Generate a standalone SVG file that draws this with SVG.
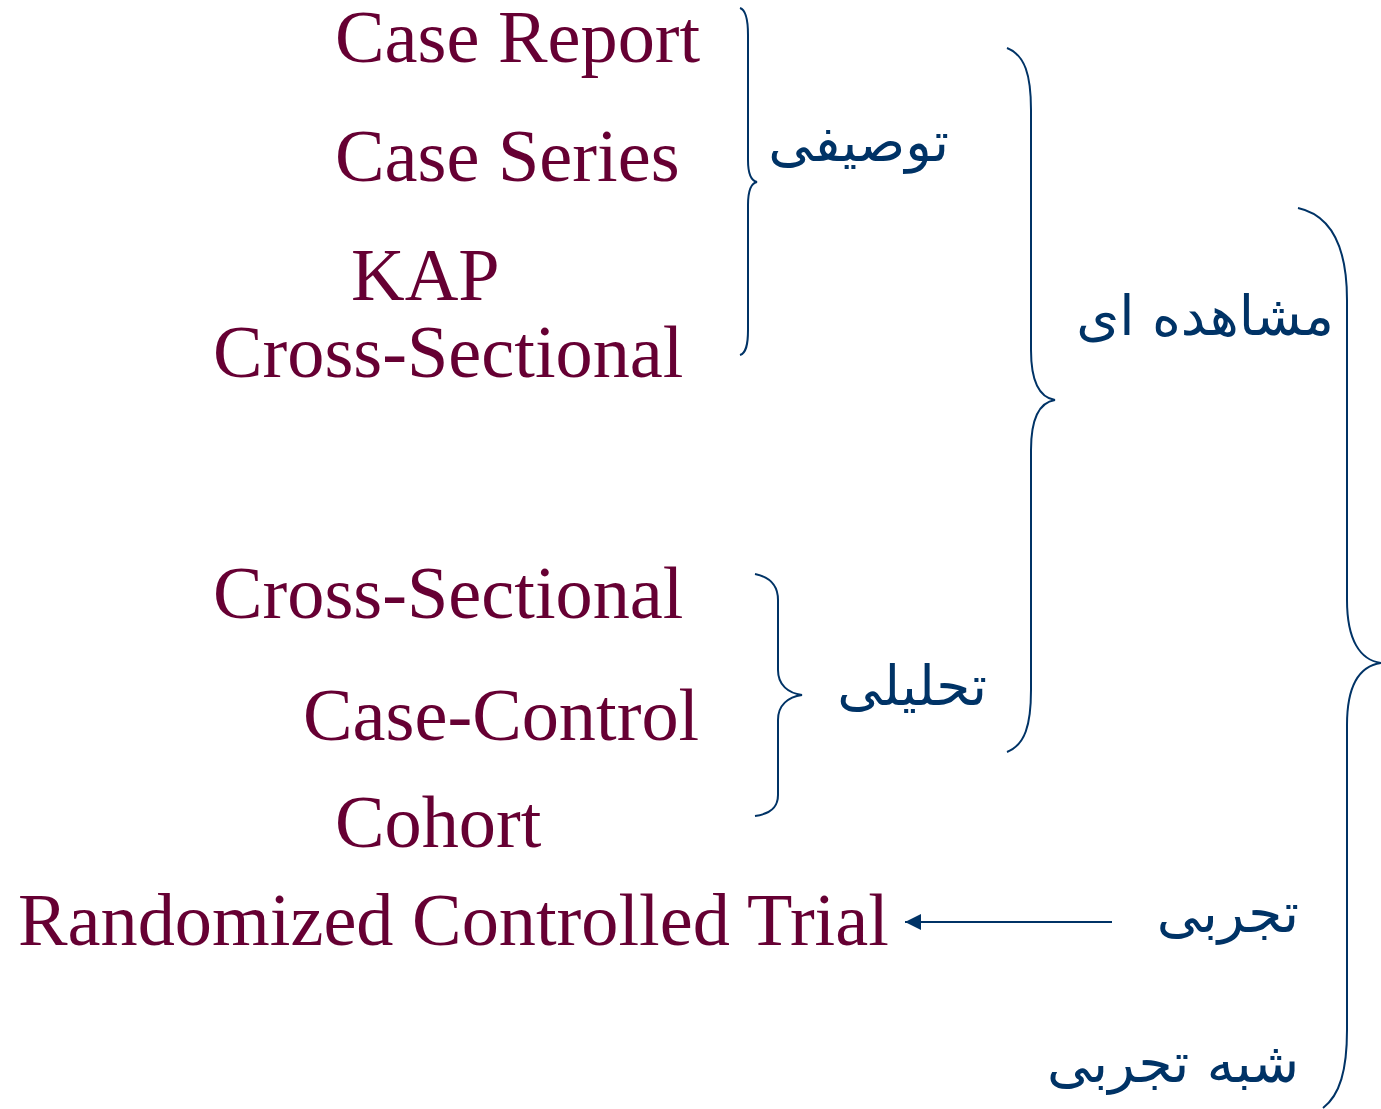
<svg xmlns="http://www.w3.org/2000/svg" width="1381" height="1109" viewBox="0 0 1381 1109">
<style>
.en{font-family:"Liberation Serif","Times New Roman",serif;font-size:74.3px;fill:#660033}
.fa{font-family:"DejaVu Sans",sans-serif;font-size:55px;fill:#003366;text-anchor:end}
.br{fill:none;stroke:#003366;stroke-width:2}
</style>
<defs>
<marker id="ah" markerWidth="16" markerHeight="16" refX="16" refY="8" orient="auto" markerUnits="userSpaceOnUse">
<path d="M0,0 L16,8 L0,16 Z" fill="#003366"/>
</marker>
</defs>
<rect width="1381" height="1109" fill="#fff"/>
<g id="n-case-report"><text class="en" x="335" y="62">Case Report</text></g>
<g id="n-case-series"><text class="en" x="335" y="181">Case Series</text></g>
<g id="n-kap"><text class="en" x="351" y="300">KAP</text></g>
<g id="n-cross1"><text class="en" x="213" y="377">Cross-Sectional</text></g>
<g id="n-cross2"><text class="en" x="213" y="618">Cross-Sectional</text></g>
<g id="n-case-control"><text class="en" x="303" y="740">Case-Control</text></g>
<g id="n-cohort"><text class="en" x="335" y="847">Cohort</text></g>
<g id="n-rct"><text class="en" x="18" y="945">Randomized Controlled Trial</text></g>
<g id="n-descriptive"><text class="fa" x="949" y="161">توصیفی</text></g>
<g id="n-observational"><text class="fa" x="1334" y="335">مشاهده ای</text></g>
<g id="n-analytical"><text class="fa" x="987" y="705">تحلیلی</text></g>
<g id="n-experimental"><text class="fa" x="1299" y="932">تجربی</text></g>
<g id="n-quasi"><text class="fa" x="1299" y="1082">شبه تجربی</text></g>
<g id="connectors">
<path class="br" d="M740,8 C746,10 748,20 748,35 L748,160 C748,175 752,181 757,182 C752,183 748,190 748,205 L748,330 C748,345 746,353 740,355"/>
<path class="br" d="M1007,48 C1025,55 1031,75 1031,110 L1031,350 C1031,385 1042,398 1055,400 C1042,402 1031,415 1031,450 L1031,690 C1031,725 1025,745 1007,752"/>
<path class="br" d="M1298,208 C1330,215 1347,245 1347,300 L1347,600 C1347,640 1360,660 1381,663 C1360,666 1347,685 1347,725 L1347,1030 C1347,1070 1340,1095 1323,1108"/>
<path class="br" d="M755,574 C770,577 778,585 778,600 L778,670 C778,685 788,693 802,695 C788,697 778,705 778,720 L778,795 C778,808 770,814 755,816"/>
<line x1="1112" y1="922" x2="905" y2="922" stroke="#003366" stroke-width="2" marker-end="url(#ah)"/>
</g>
</svg>
